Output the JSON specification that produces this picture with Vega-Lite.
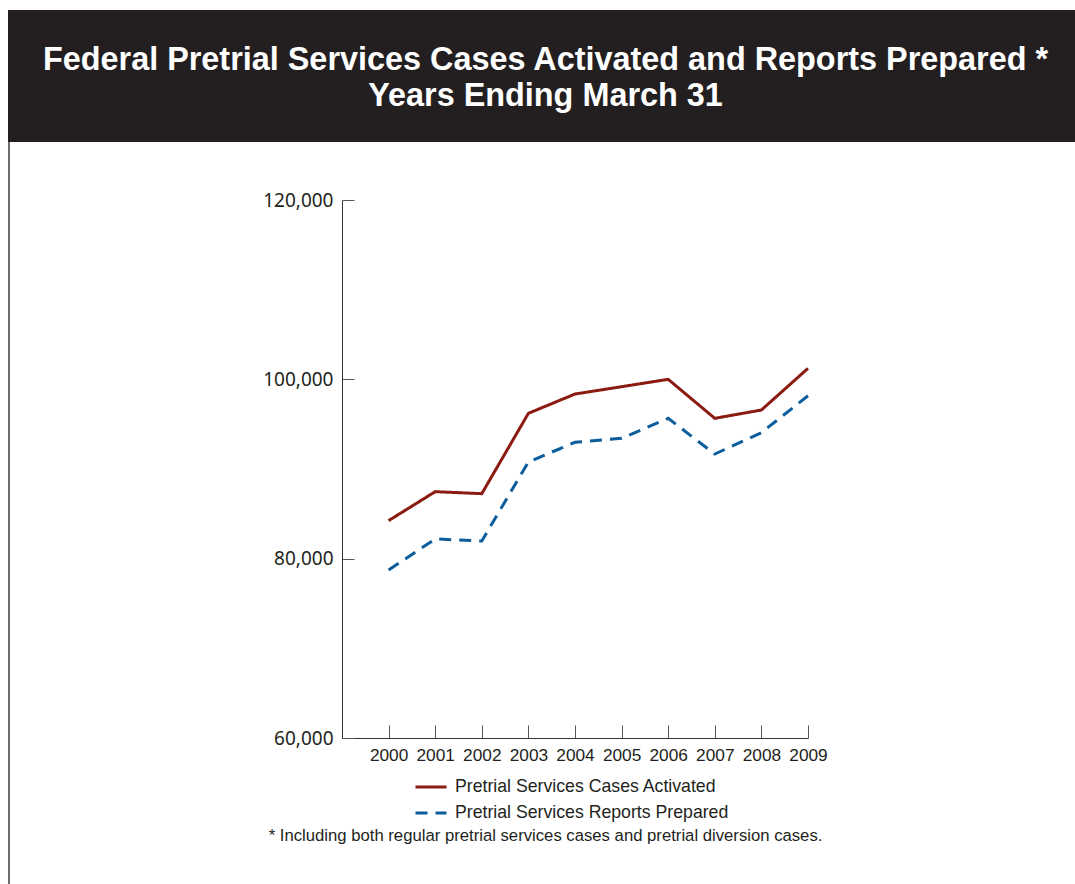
{
  "$schema": "https://vega.github.io/schema/vega-lite/v6.json",
  "padding": {"left": 8, "top": 10, "right": 0, "bottom": 0},
  "background": "white",
  "spacing": 0,
  "bounds": "flush",
  "config": {
    "font": "Liberation Sans",
    "view": {"stroke": null},
    "axis": {"grid": false}
  },
  "vconcat": [
    {
      "width": 1067,
      "height": 132,
      "view": {"fill": "#231f20", "stroke": null},
      "data": {"values": []},
      "mark": {"type": "point", "opacity": 0},
      "title": {
        "text": ["Federal Pretrial Services Cases Activated and Reports Prepared *", "Years Ending March 31"],
        "orient": "bottom",
        "offset": -98,
        "baseline": "top",
        "anchor": "middle",
        "frame": "group",
        "dx": 4,
        "lineHeight": 35.5,
        "font": "Liberation Sans",
        "fontSize": 32.4,
        "fontWeight": "bold",
        "color": "white"
      }
    },
    {
      "hconcat": [
        {
          "width": 2,
          "height": 742,
          "view": {"fill": "#6d6e71", "stroke": null},
          "data": {"values": []},
          "mark": {"type": "point", "opacity": 0}
        },
        {
          "vconcat": [
            {
              "width": 2,
              "height": 58,
              "data": {"values": []},
              "mark": {"type": "point", "opacity": 0}
            },
            {
              "width": 466,
              "height": 538,
              "data": {
                "values": [
                  {"year": 2000, "series": "Pretrial Services Cases Activated", "value": 84240},
                  {"year": 2001, "series": "Pretrial Services Cases Activated", "value": 87470},
                  {"year": 2002, "series": "Pretrial Services Cases Activated", "value": 87250},
                  {"year": 2003, "series": "Pretrial Services Cases Activated", "value": 96210},
                  {"year": 2004, "series": "Pretrial Services Cases Activated", "value": 98360},
                  {"year": 2005, "series": "Pretrial Services Cases Activated", "value": 99180},
                  {"year": 2006, "series": "Pretrial Services Cases Activated", "value": 100000},
                  {"year": 2007, "series": "Pretrial Services Cases Activated", "value": 95650},
                  {"year": 2008, "series": "Pretrial Services Cases Activated", "value": 96580},
                  {"year": 2009, "series": "Pretrial Services Cases Activated", "value": 101230},
                  {"year": 2000, "series": "Pretrial Services Reports Prepared", "value": 78740},
                  {"year": 2001, "series": "Pretrial Services Reports Prepared", "value": 82200},
                  {"year": 2002, "series": "Pretrial Services Reports Prepared", "value": 81970},
                  {"year": 2003, "series": "Pretrial Services Reports Prepared", "value": 90780},
                  {"year": 2004, "series": "Pretrial Services Reports Prepared", "value": 92980},
                  {"year": 2005, "series": "Pretrial Services Reports Prepared", "value": 93420},
                  {"year": 2006, "series": "Pretrial Services Reports Prepared", "value": 95650},
                  {"year": 2007, "series": "Pretrial Services Reports Prepared", "value": 91670},
                  {"year": 2008, "series": "Pretrial Services Reports Prepared", "value": 94050},
                  {"year": 2009, "series": "Pretrial Services Reports Prepared", "value": 98170}
                ]
              },
              "mark": {"type": "line", "strokeWidth": 3},
              "encoding": {
                "x": {
                  "field": "year",
                  "type": "quantitative",
                  "scale": {"domain": [1999, 2009], "nice": false, "zero": false},
                  "axis": {
                    "values": [2000, 2001, 2002, 2003, 2004, 2005, 2006, 2007, 2008, 2009],
                    "format": "d",
                    "tickSize": -13,
                    "tickColor": "#555555",
                    "domainColor": "#333333",
                    "labelFont": "Liberation Sans",
                    "labelFontSize": 17.3,
                    "labelColor": "#231f20",
                    "labelPadding": 21,
                    "labelFlush": false,
                    "title": "* Including both regular pretrial services cases and pretrial diversion cases.",
                    "titleFont": "Liberation Sans",
                    "titleFontSize": 16.7,
                    "titleFontWeight": "normal",
                    "titleColor": "#231f20",
                    "titleX": 203,
                    "titleY": 97,
                    "titleAlign": "center",
                    "titleBaseline": "middle"
                  }
                },
                "y": {
                  "field": "value",
                  "type": "quantitative",
                  "scale": {"domain": [60000, 120000], "nice": false, "zero": false},
                  "axis": {
                    "values": [60000, 80000, 100000, 120000],
                    "format": ",d",
                    "tickSize": -12,
                    "tickColor": "#555555",
                    "domainColor": "#333333",
                    "labelFont": "Noto Sans",
                    "labelFontSize": 19,
                    "labelColor": "#231f20",
                    "labelPadding": 21,
                    "labelFlush": false,
                    "title": null
                  }
                },
                "color": {
                  "field": "series",
                  "type": "nominal",
                  "scale": {
                    "domain": ["Pretrial Services Cases Activated", "Pretrial Services Reports Prepared"],
                    "range": ["#8b1a10", "#0b5d9c"]
                  },
                  "legend": {
                    "title": null,
                    "orient": "none",
                    "legendX": 406,
                    "legendY": 760,
                    "padding": 0,
                    "symbolType": "stroke",
                    "symbolSize": 961,
                    "symbolStrokeWidth": 3,
                    "labelFont": "Liberation Sans",
                    "labelFontSize": 17.7,
                    "labelColor": "#231f20",
                    "labelOffset": 7,
                    "labelLimit": 500,
                    "rowPadding": -12
                  }
                },
                "strokeDash": {
                  "field": "series",
                  "type": "nominal",
                  "scale": {
                    "domain": ["Pretrial Services Cases Activated", "Pretrial Services Reports Prepared"],
                    "range": [[1, 0], [12, 8]]
                  },
                  "legend": {
                    "title": null,
                    "orient": "none",
                    "legendX": 406,
                    "legendY": 760,
                    "padding": 0,
                    "symbolType": "stroke",
                    "symbolSize": 961,
                    "symbolStrokeWidth": 3,
                    "labelFont": "Liberation Sans",
                    "labelFontSize": 17.7,
                    "labelColor": "#231f20",
                    "labelOffset": 7,
                    "labelLimit": 500,
                    "rowPadding": -12
                  }
                }
              }
            }
          ],
          "spacing": 0,
          "bounds": "flush"
        }
      ],
      "spacing": 332,
      "bounds": "flush"
    }
  ]
}
